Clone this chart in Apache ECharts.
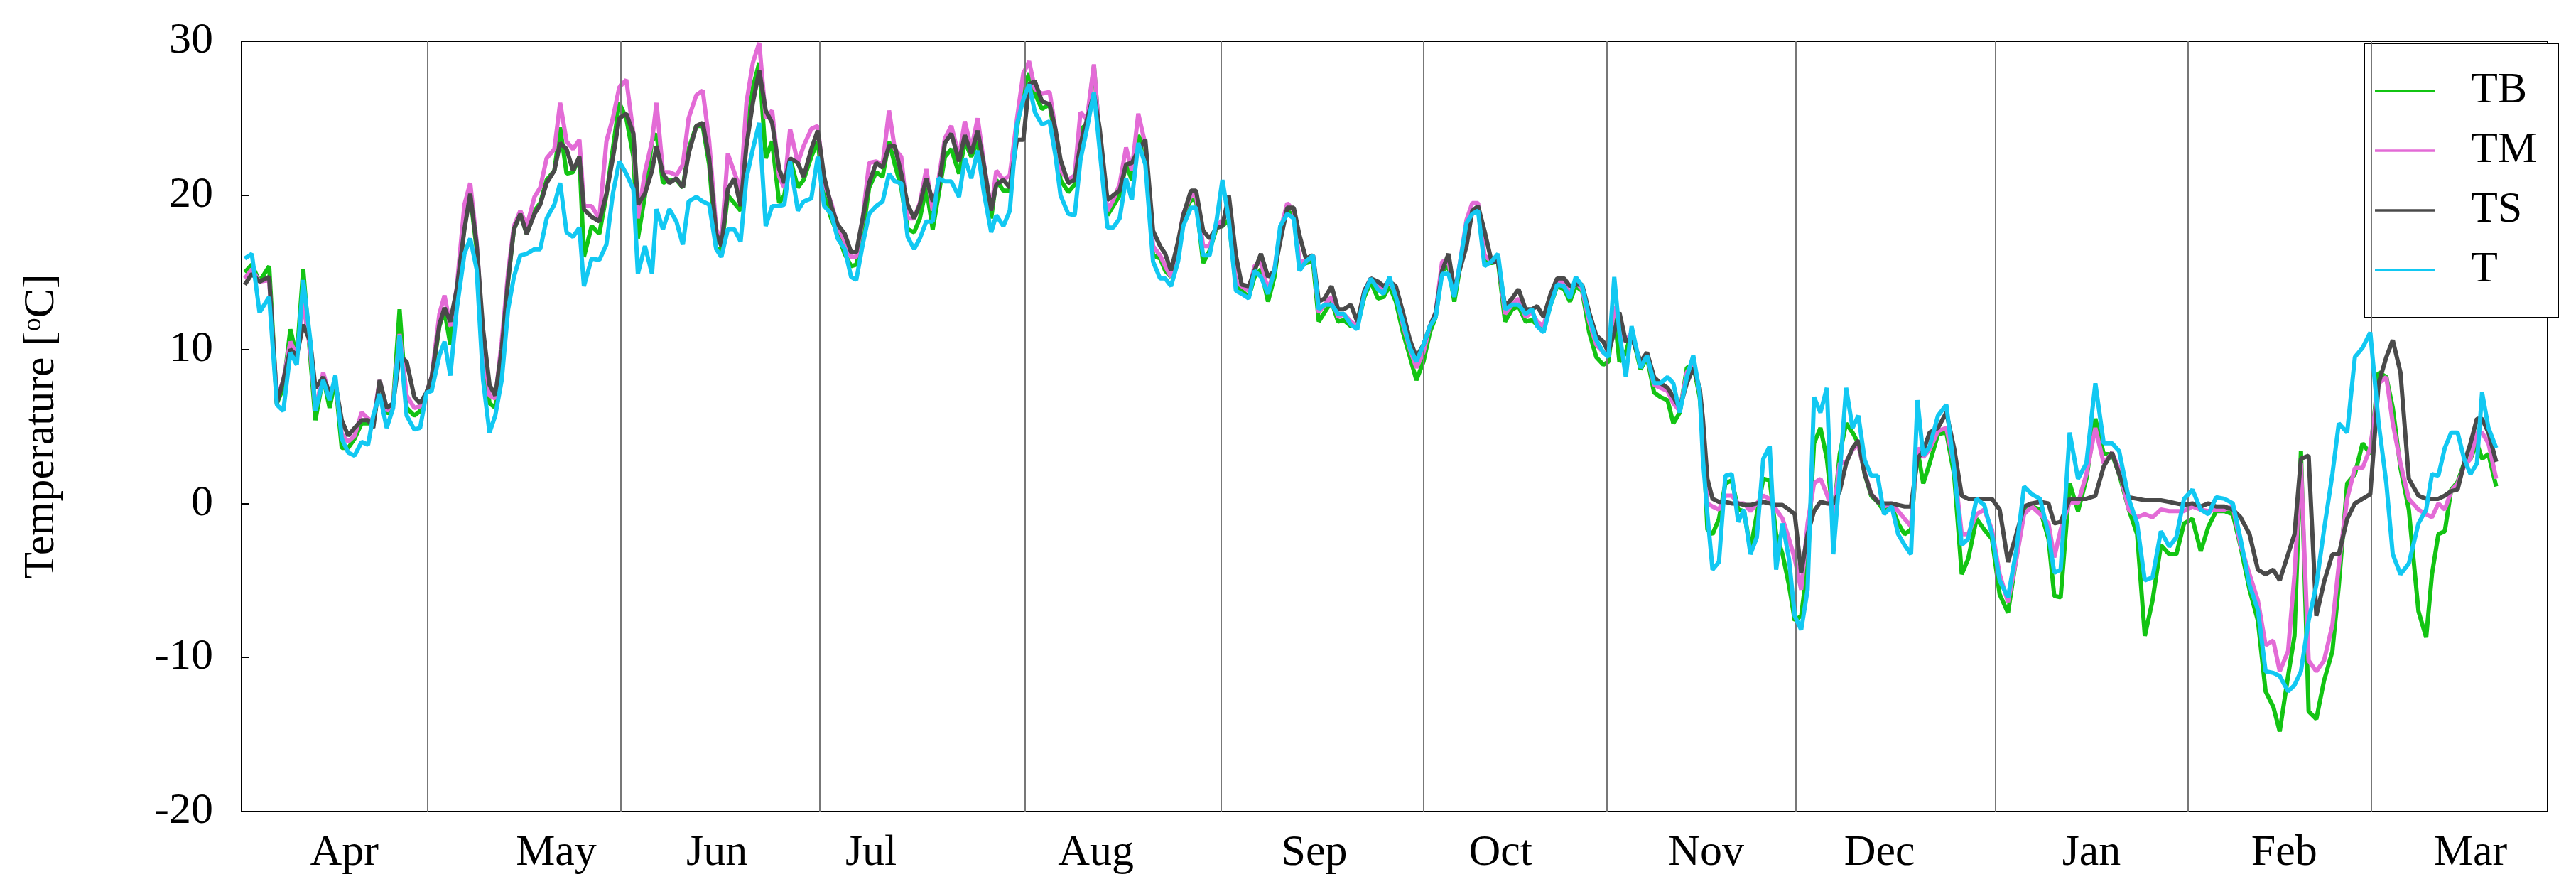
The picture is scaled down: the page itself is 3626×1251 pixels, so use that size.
<!DOCTYPE html>
<html><head><meta charset="utf-8">
<script src="https://cdn.jsdelivr.net/npm/echarts@6/dist/echarts.min.js"></script>
<style>html,body{margin:0;padding:0;background:#fff}#c{width:3626px;height:1251px}</style>
</head><body><div id="c"></div>
<script>
const days = [
0.5,1.6,2.8,4.3,5.5,6.5,7.6,8.6,9.6,10.7,
11.5,12.7,13.7,14.6,15.6,16.6,17.6,18.7,19.7,20.5,
21.5,22.6,23.6,24.6,25.7,26.9,27.8,28.8,29.6,30.8,
31.6,32.5,33.5,34.7,35.6,36.6,37.6,38.6,39.5,40.5,
41.5,42.4,43.4,44.4,45.6,46.5,47.5,48.7,49.6,50.6,
51.6,52.6,53.3,54.5,55.7,56.8,57.8,58.8,59.9,61,
61.7,62.8,63.9,64.6,65.6,66.6,67.7,68.7,69.6,70.8,
71.8,72.8,73.9,74.7,75.7,76.7,77.7,78.6,79.6,80.6,
81.6,82.6,83.7,84.5,85.4,86.6,87.5,88.7,89.7,90.7,
91.8,92.8,93.9,94.9,95.7,96.7,97.7,98.8,99.8,100.8,
101.7,102.7,103.7,104.7,105.6,106.6,107.6,108.5,109.5,110.5,
111.7,112.6,113.6,114.6,115.6,116.7,
117.5,118.6,119.6,120.7,121.7,122.6,123.5,124.6,125.8,126.7,
127.5,128.7,129.7,130.6,131.6,132.7,133.6,134.8,135.7,136.7,
137.7,138.6,139.6,140.7,141.9,143,143.8,144.7,145.8,146.6,
147.8,148.6,149.7,150.7,151.8,152.7,153.7,154.8,155.7,156.8,
157.7,158.7,159.8,160.8,161.7,162.8,163.8,164.7,165.7,166.8,
167.7,168.6,169.7,170.7,171.6,172.7,173.7,174.8,175.8,176.9,
177.8,178.7,179.7,180.8,181.9,182.9,184,185,185.9,186.9,
187.9,188.8,189.6,190.7,191.6,192.5,193.5,194.6,195.6,196.7,
197.8,198.8,199.9,200.9,201.7,202.7,203.8,204.8,205.9,206.8,
207.7,208.7,209.8,210.9,212,212.8,213.7,214.5,215.5,216.4,
217.8,218.8,219.9,220.9,222,222.9,223.9,225,226,227,
227.5,228.2,229,230,231,232,233,233.9,234.9,235.9,
236.9,237.9,238.9,239.9,240.9,241.8,242.8,243.8,244.8,245.8,
246.8,247.8,248.8,249.8,250.8,251.7,252.7,253.7,254.7,255.7,
256.9,257.9,258.9,259.9,260.9,261.8,262.8,264.1,265.4,266.6,
267.8,268.8,270.1,271.3,272.5,273.7,275,276.3,277.5,278.7,
280,281.3,282.2,283.2,284.6,285.9,287.2,288.6,289.9,291.2,
292.3,293.8,295.1,296.3,297.5,298.8,300.1,301.2,302.4,303.7,
305,306.2,307.4,308.7,310,311.2,312.6,313.9,315.1,316.3,
317.3,318.6,319.6,320.6,321.8,323,324.2,325.5,326.5,327.8,
329,330.2,331.4,332.7,333.9,334.9,336.1,337.4,338.9,340.1,
341,342,343,344,345,346,347,348,348.8,349.8,
351];
const TB = [
15,15.5,14.4,15.4,6.5,7.5,11.3,9.5,15.2,9.5,
5.4,8.2,6.2,8,3.6,3.6,4.2,5.2,5.2,5.2,
7.8,5.8,6.5,12.6,6.2,5.7,6,7.2,8,11.5,
12.5,10.3,13.5,18,20,16.5,10,6.5,6.2,10,
14.5,17.8,18.8,17.5,19,19.5,21,21.6,24.4,21.4,
21.5,22.5,16,18,17.5,20,23,26,25,22.5,
17.2,20,23.5,24,20.8,21,21,20.5,23,24.5,
24.5,22,16.5,16.5,20,19.5,19,24,27,28.6,
22.4,23.5,19.5,20,22.4,20.5,21,22.5,23.5,20,
18.5,17.5,16.2,15.4,15.5,17.5,20.5,21.5,21.2,23.5,
22,20.5,17.8,17.6,18.5,20.5,17.8,20,22.5,23,
21.4,23.5,22.5,23.5,21,18.5,
21,20.3,20.3,24.3,26.9,27.9,26.6,25.6,25.9,23.6,
21,20.2,20.7,24.3,24.6,28.4,23.6,18.7,19.3,20,
22,21,23.9,22.9,16.1,15.9,15.1,14.7,16.4,18.7,
19.7,19.7,15.6,16.4,17.9,18,18.4,14.1,13.8,13.4,
14.7,15.2,13.1,14.7,17.4,19,18.7,15.4,15.6,15.7,
11.8,12.4,13.1,11.8,11.9,11.5,11.5,13.4,14.4,13.3,
13.4,14.1,13.1,11.1,9.5,8,9.2,11.1,12.1,15.1,
15.4,13.1,15.1,18,19,19.2,15.7,15.6,15.7,11.8,
12.6,12.8,11.8,11.9,11.6,11.3,12.9,14.1,13.9,13.1,
14.1,13.8,11.1,9.5,9,9.2,12.4,9.2,9.8,11.1,
8.7,9.5,7.2,6.9,6.7,5.2,5.9,8.8,9,6.9,
4.6,-1.7,-2,-1,1.3,1.5,-0.4,-0.5,-3,-0.7,
1.6,1.5,-2,-3.3,-5.3,-7.6,-7.3,-4,3.9,4.9,
2.9,-1,3.2,5.2,4.6,3.9,1.9,0.5,0.1,-0.5,
-0.2,-1.3,-2,-1.7,3.5,1.3,2.6,4.5,4.6,1.9,
-4.6,-3.6,-1,-1.7,-2.3,-5.9,-7.1,-3.5,-0.5,-0.2,
-0.4,-2.3,-6,-6.1,1.3,-0.5,1.6,5.5,3.2,3.2,
1.9,-0.4,-2,-8.6,-6.3,-2.7,-3.3,-3.3,-1.3,-1,
-3.1,-1.5,-0.5,-0.5,-0.7,-2.8,-5.6,-7.6,-12.2,-13.2,
-14.8,-11.2,-8.6,3.4,-13.5,-14,-11.5,-9.6,-5.3,1.3,
1.9,3.9,3.2,8.5,8.2,6.2,2.3,-0.4,-7,-8.7,
-4.6,-2,-1.8,0.9,1.4,2.6,2.9,3.9,2.9,3.2,
1.1];
const TM = [
14.6,15.2,14.4,14.5,6.8,8,10.5,9.6,13,10,
6,8.5,7,8,4.5,4,4.4,5.9,5.5,5.3,
8,6,6.5,11,7,6.2,6.3,7.2,8.2,12.3,
13.5,11.5,14,19.4,20.8,17,10.5,7,6.8,10.5,
15,18,19,18,19.9,20.5,22.4,23,26,23.5,
23,23.6,19.3,19.3,18.5,23.5,25,27,27.5,24,
18.5,21.5,23.5,26,21.5,21.5,21.3,22,25,26.5,
26.8,23.5,17.8,17,22.7,21.5,20.3,26,28.6,29.9,
25,25.5,21.2,20.5,24.3,22.1,23.2,24.3,24.5,20.8,
19.5,18,17,16,16,18.5,22.1,22.2,22,25.5,
23,22.5,18.5,18.5,19.5,21.7,19,21,23.7,24.5,
22.5,24.8,23,25,22,19,
21.6,21,21.3,24.9,27.9,28.7,26.9,26.6,26.7,24.3,
21.6,21,21.3,25.4,24.9,28.5,23.6,19,19.7,20.7,
23.1,21.6,25.3,23.3,16.7,16.1,15.4,14.7,16.7,18.8,
20,20,16.7,16.7,18,18.4,19,14.4,14.1,13.8,
15.4,15.7,13.8,15.2,17.7,19.5,19,15.7,15.7,16.1,
12.4,12.9,13.4,12.1,12.3,11.8,11.5,13.8,14.6,14.1,
13.9,14.4,13.6,11.6,10,8.8,9.8,11.5,12.4,15.7,
15.7,13.6,15.4,18.4,19.5,19.5,16.1,15.7,15.9,12.3,
12.9,13.3,12.1,12.4,11.8,11.5,13.3,14.4,14.4,13.6,
14.4,13.9,11.8,10.3,9.8,9.7,12.8,11.5,10.5,11.1,
9,9.6,7.7,7.5,7.3,6.5,6,8.5,9.2,7.2,
5,0,-0.2,-0.4,0.5,0.5,0,0,-0.5,0,
0.5,0.3,-0.4,-1,-2.3,-3.6,-5.6,-1.3,1.3,1.6,
0.6,-0.7,2.6,2.7,3.5,3.8,2,0.6,0.2,-0.2,
0,-0.5,-1,-1.5,3.6,3,3.5,4.7,4.9,2.5,
-2,-2,-0.7,-0.4,-1.7,-4.6,-6.4,-3.6,-0.7,-0.2,
-0.7,-1.3,-3.5,-1.7,0.1,0,1.9,4.9,2.6,3.3,
2.2,-0.4,-0.9,-0.7,-0.9,-0.4,-0.5,-0.5,-0.5,-0.2,
-0.4,-0.5,-0.4,-0.4,-0.2,-2.7,-4.6,-6.3,-9.2,-8.9,
-10.9,-9.6,-4.6,2.6,-10.2,-10.9,-10.2,-7.9,-4,0.3,
2.3,2.3,3.6,7.8,8.2,5.2,2.6,0.3,-0.4,-0.7,
-0.9,0,-0.4,0.8,1.3,2.4,2.9,4.6,4.6,3.9,
1.6];
const TS = [
14.2,14.9,14.4,14.7,6.5,8,10,9.6,11.6,10.5,
7.5,8.2,7.2,7.8,5.4,4.4,4.9,5.4,5.4,4.9,
8,6.2,6.5,9.6,9.2,6.9,6.5,7.2,8.2,11.6,
12.7,11.8,13.9,17.8,20.1,16.8,11.3,7.7,7,10,
14.5,17.8,18.8,17.5,18.8,19.4,20.8,21.6,23.4,23,
21.6,22.5,19.1,18.6,18.3,20.1,22.4,25,25.3,24,
19.4,20.1,21.6,23.2,21.4,20.8,21.1,20.5,22.7,24.5,
24.7,22.4,17.5,16.7,20.4,21.1,19.3,23.2,26,28.1,
25.5,24.7,21.7,20.8,22.4,22.1,21.2,23,24.2,21.2,
19.3,18.1,17.5,16.3,16.3,18.5,20.8,22.1,21.8,23.2,
23.2,21.4,19.4,18.5,19.4,21.1,19.6,20.4,23.4,24,
22.2,23.9,22.7,24.2,21.9,19,
20.7,21,20.5,23.6,23.6,27.2,27.4,26.1,25.9,24.3,
22.3,20.8,21,23.3,24.9,26.6,24.3,19.7,20,20.3,
22,22.1,22.9,23.6,17.7,16.7,16.2,15.1,17,18.7,
20.3,20.3,17.7,17.2,17.9,18,20,16.1,14.2,14.1,
15.1,16.2,14.7,15.1,17,19.2,19.2,17.4,15.9,16.1,
13.1,13.3,14.1,12.6,12.6,12.9,11.8,13.8,14.6,14.4,
14.1,14.4,14.1,12.4,10.6,9.5,10.3,11.5,12.4,15.1,
16.2,13.8,15.1,16.7,19,19.3,17.7,15.7,15.7,12.8,
13.3,13.9,12.6,12.6,12.8,12.1,13.6,14.6,14.6,14.1,
14.2,14.2,12.4,10.9,10.5,9.8,11.1,12.4,10.5,10.8,
9.2,9.8,8.2,7.8,7.5,6.9,6.2,7.8,8.8,7.5,
5.5,1.6,0.3,0.1,0.1,0,0,-0.1,-0.1,0,
0.1,0,-0.1,-0.1,-0.4,-0.7,-4.5,-2,-0.5,0.1,
0,0,0.8,2.6,3.6,4.1,1.9,0.6,0.1,0,
0,-0.1,-0.2,-0.2,2.9,3.4,4.6,4.9,5.9,3.6,
0.5,0.3,0.3,0.3,0.3,-0.4,-3.8,-2,-0.2,0,
0.1,0,-1.3,-1.2,0.3,0.3,0.3,0.5,2.4,3.3,
1.9,0.4,0.3,0.2,0.2,0.2,0.1,0,-0.1,0,
-0.2,0,-0.2,-0.2,-0.4,-0.9,-2,-4.3,-4.6,-4.3,
-5,-3.3,-2,2.9,3.1,-7.3,-5.1,-3.3,-3.3,-1,
0,0.3,0.6,7.8,9.5,10.6,8.5,1.6,0.5,0.3,
0.3,0.3,0.5,0.8,0.9,2.6,3.9,5.5,5.5,4.6,
2.7];
const T = [
15.9,16.2,12.4,13.4,6.4,6,9.8,9,14.5,10.6,
6,8,6.7,8.3,4.2,3.3,3.1,4,3.8,5.7,
7.1,4.9,6.2,10.9,5.7,4.8,4.9,7.2,7.3,9.6,
10.5,8.3,12.6,16.2,17.2,15.2,8,4.6,5.7,8,
12.6,14.7,16.1,16.2,16.5,16.5,18.5,19.4,20.8,17.6,
17.3,17.9,14.1,15.9,15.8,16.8,20.1,22.2,21.4,20.4,
14.9,16.7,14.9,19.1,17.8,19.1,18.3,16.8,19.6,19.9,
19.6,19.4,16.5,16,17.8,17.8,17,21.1,23,24.7,
18,19.3,19.3,19.4,22.2,19,19.6,19.8,22.5,19.3,
18.8,17.2,16.5,14.7,14.5,16.8,18.8,19.3,19.6,21.4,
20.9,20.8,17.3,16.5,17.2,18.3,18.3,21.1,20.9,20.9,
19.9,22.4,21.1,22.9,20.1,17.6,
18.7,18,19,24.6,26.2,27.2,25.4,24.6,24.8,22.6,
20,18.8,18.7,22.3,24.3,26.7,22.9,17.9,17.9,18.5,
21.1,19.7,23.4,22,15.7,14.6,14.6,14.1,15.7,18,
19.2,19.2,16.1,16.1,18.4,21,18.4,13.8,13.6,13.3,
15.1,14.7,13.6,15.1,18,18.8,18.5,15.1,15.7,16.1,
12.6,12.9,12.9,12.3,12.3,11.6,11.3,13.6,14.6,13.9,
13.6,14.7,13.4,11.8,10.1,9.2,10.3,11.5,12.1,14.9,
14.9,13.4,15.4,18.2,18.8,19,15.4,15.7,16.2,12.6,
12.9,12.9,12.3,12.6,11.5,11.1,12.9,14.2,14.1,13.3,
14.7,14.1,12.1,10.6,9.8,9.5,14.7,11.1,8.2,11.5,
8.8,9.6,7.8,7.8,8.2,7.8,5.9,8.2,9.6,7.2,
2.9,-0.7,-4.3,-3.8,1.8,1.9,-1.2,-0.4,-3.3,-2.2,
2.9,3.7,-4.3,-1.3,-3.6,-7.3,-8.2,-5.6,6.9,5.9,
7.5,-3.3,1.9,7.5,4.9,5.7,2.8,1.8,1.8,-0.7,
-0.2,-2,-2.7,-3.3,6.7,3.1,3.7,5.7,6.4,2.3,
-2.7,-2.3,0.3,-0.1,-2,-5,-6.1,-3,1.1,0.6,
0.3,-2,-4.5,-4.3,4.6,1.6,2.6,7.8,3.9,3.9,
3.4,0.3,-1.3,-5,-4.8,-1.8,-2.8,-2.2,0.3,0.9,
-0.4,-0.7,0.4,0.3,0,-2.3,-5.3,-6.9,-10.9,-11,
-11.2,-12.2,-11.8,-10.9,-7.6,-5.3,-1.7,1.9,5.2,4.6,
9.5,10.1,11.1,5.2,1.3,-3.3,-4.6,-3.9,-1.3,-0.4,
1.9,1.8,3.6,4.6,4.6,2.9,1.9,2.6,7.2,4.9,
3.6];
const monthNames = ['Apr','May','Jun','Jul','Aug','Sep','Oct','Nov','Dec','Jan','Feb','Mar'];
const monthLabelDays = [16,49,74,98,133,167,196,228,255,288,318,347];
const monthStartDays = [29,59,90,122,152.5,184,212.5,242,273,303,331.5];

const font = "'Liberation Serif', 'DejaVu Serif', serif";
const names = ['TB','TM','TS','T'];
const colors = ['#13c413','#e36bd6','#4a4a4a','#12c8f2'];
const vals = [TB,TM,TS,T];
const series = names.map((n,k)=>({
  name:n, type:'line', xAxisIndex:0, yAxisIndex:0, symbol:'none',
  data: days.map((d,i)=>[d, vals[k][i]]),
  lineStyle:{color:colors[k], width:6}, itemStyle:{color:colors[k]},
  z: 3+k
}));
series[0].markLine = {
  silent:true, symbol:'none', label:{show:false},
  lineStyle:{color:'#777', width:2, type:'solid'},
  data: monthStartDays.map(x=>({xAxis:x}))
};
const chart = echarts.init(document.getElementById('c'));
chart.setOption({
  backgroundColor:'#fff',
  animation:false,
  grid:{left:340, right:40, top:58, bottom:109},
  legend:{
    orient:'vertical', left:3328, top:61, width:258,
    data:names, itemWidth:85, itemHeight:20, itemGap:22,
    padding:[36,30,36,15],
    borderColor:'#000', borderWidth:2, backgroundColor:'#fff',
    textStyle:{fontFamily:font, fontSize:62, color:'#000', padding:[0,0,0,45]},
    icon:'path://M0,8L100,8L100,12L0,12Z'
  },
  xAxis:[{
    type:'value', min:0, max:359, position:'bottom',
    axisLine:{show:true, onZero:false, lineStyle:{color:'#000', width:2}},
    axisTick:{show:false}, splitLine:{show:false},
    axisLabel:{customValues:monthLabelDays, margin:28,
      formatter:v=>monthNames[monthLabelDays.indexOf(v)],
      fontFamily:font, fontSize:62, color:'#000'}
  },{
    type:'value', min:0, max:359, position:'top',
    axisLine:{show:true, onZero:false, lineStyle:{color:'#000', width:2}},
    axisTick:{show:false}, axisLabel:{show:false}, splitLine:{show:false}
  }],
  yAxis:[{
    type:'value', min:-20, max:30, interval:10,
    axisLine:{show:true, onZero:false, lineStyle:{color:'#000', width:2}},
    axisTick:{show:true, inside:true, length:10, lineStyle:{color:'#000', width:2}},
    splitLine:{show:false},
    axisLabel:{fontFamily:font, fontSize:62, color:'#000', margin:40},
    name:'Temperature [{s|o}C]', nameLocation:'middle', nameGap:250,
    nameTextStyle:{fontFamily:font, fontSize:62, color:'#000',
      rich:{s:{fontFamily:font, fontSize:38, verticalAlign:'top', padding:[0,0,24,0]}}}
  },{
    type:'value', min:-20, max:30, position:'right',
    axisLine:{show:true, onZero:false, lineStyle:{color:'#000', width:2}},
    axisTick:{show:false}, axisLabel:{show:false}, splitLine:{show:false}
  }],
  series
});
</script></body></html>
